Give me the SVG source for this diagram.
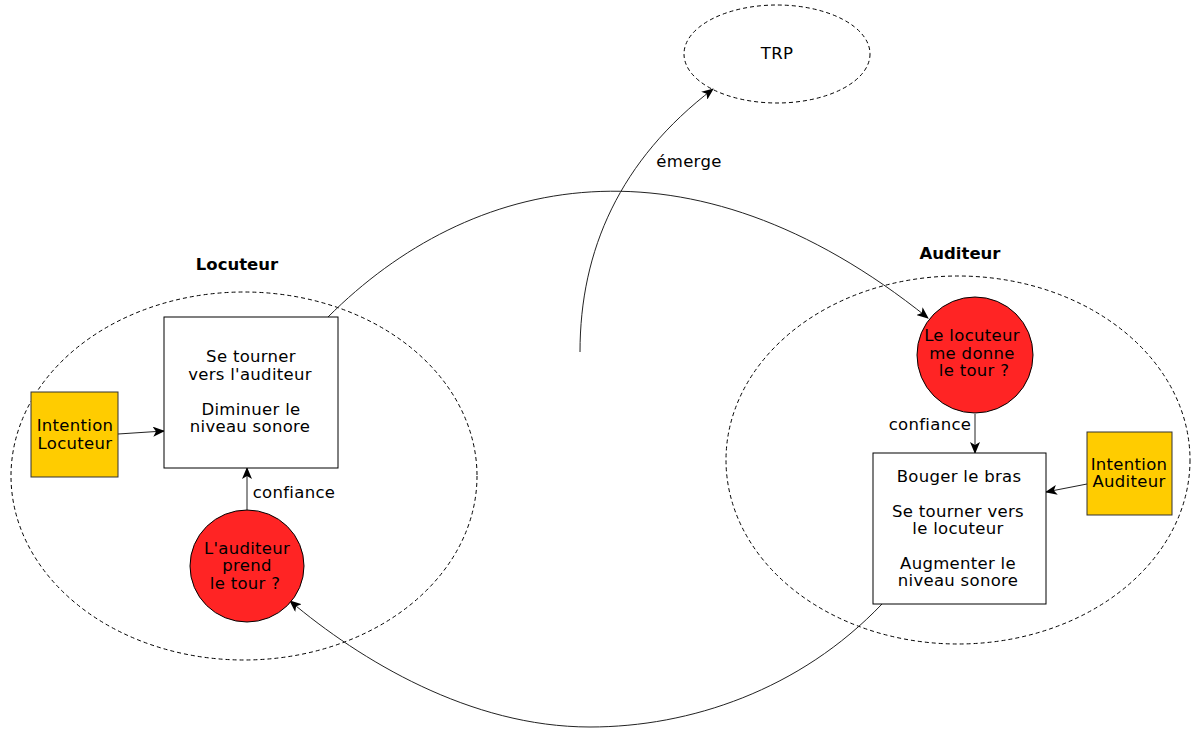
<svg xmlns="http://www.w3.org/2000/svg" width="1192" height="729" viewBox="0 0 1192 729">
<defs>
<style>
text{font-family:"DejaVu Sans","Noto Sans",sans-serif;font-size:16.5px;letter-spacing:0.3px;fill:#000;text-anchor:middle}
.b{font-weight:bold;font-size:16.5px;letter-spacing:0}
.grp{fill:none;stroke:#000;stroke-width:1;stroke-dasharray:4,3}
.box{fill:#fff;stroke:#000;stroke-width:1}
.int{fill:#ffcc00;stroke:#333;stroke-width:1}
.q{fill:#ff2424;stroke:#000;stroke-width:1}
.c{fill:none;stroke:#222;stroke-width:1;marker-end:url(#ah)}
</style>
<marker id="ah" markerWidth="12" markerHeight="10" viewBox="0 0 12 10" refX="11" refY="5" orient="auto" markerUnits="userSpaceOnUse">
<path d="M0,0 L12,5 L0,10 L3,5 Z" fill="#000"/>
</marker>
</defs>
<rect width="1192" height="729" fill="#fff"/>
<g id="groups">
<ellipse class="grp" cx="244" cy="476" rx="233" ry="184"/>
<ellipse class="grp" cx="958" cy="460" rx="232" ry="184"/>
</g>
<g id="trp">
<ellipse class="grp" cx="777" cy="54" rx="93" ry="49"/>
<text x="777" y="59">TRP</text>
</g>
<g id="label-locuteur"><text class="b" x="237" y="270">Locuteur</text></g>
<g id="label-auditeur"><text class="b" x="960" y="259">Auditeur</text></g>
<g id="connectors">
<path class="c" d="M328,317 C470,175 688,125 928,318"/>
<path class="c" d="M882,604 C800,690 690,727 590,727 C470,727 360,660 290,601"/>
<path class="c" d="M580,352 C580,250 620,160 713,89"/>
<path class="c" d="M118,434 L164,431"/>
<path class="c" d="M247,510 L247,468"/>
<path class="c" d="M975,414 L975,453"/>
<path class="c" d="M1087,484 L1046,492"/>
<text x="689" y="167">émerge</text>
<text x="294" y="498">confiance</text>
<text x="930" y="430">confiance</text>
</g>
<g id="action-locuteur">
<rect class="box" x="164" y="317" width="174" height="151"/>
<text x="251" y="362">Se tourner</text>
<text x="250" y="380">vers l'auditeur</text>
<text x="251" y="415">Diminuer le</text>
<text x="250" y="432">niveau sonore</text>
</g>
<g id="intention-locuteur">
<rect class="int" x="31" y="392" width="87" height="85"/>
<text x="75" y="431">Intention</text>
<text x="75" y="449">Locuteur</text>
</g>
<g id="question-locuteur">
<ellipse class="q" cx="247" cy="566" rx="57" ry="56"/>
<text x="247" y="554">L'auditeur</text>
<text x="247" y="571">prend</text>
<text x="245" y="589">le tour ?</text>
</g>
<g id="question-auditeur">
<circle class="q" cx="975" cy="355" r="58"/>
<text x="972" y="341">Le locuteur</text>
<text x="972" y="359">me donne</text>
<text x="974" y="376">le tour ?</text>
</g>
<g id="action-auditeur">
<rect class="box" x="873" y="453" width="173" height="151"/>
<text x="959" y="482">Bouger le bras</text>
<text x="958" y="517">Se tourner vers</text>
<text x="958" y="534">le locuteur</text>
<text x="958" y="569">Augmenter le</text>
<text x="958" y="586">niveau sonore</text>
</g>
<g id="intention-auditeur">
<rect class="int" x="1087" y="432" width="85" height="83"/>
<text x="1129" y="470">Intention</text>
<text x="1129" y="487">Auditeur</text>
</g>
</svg>
